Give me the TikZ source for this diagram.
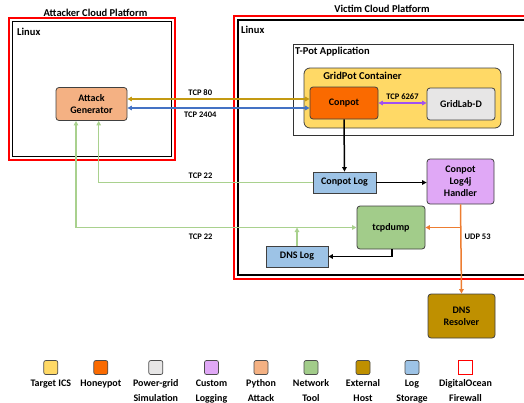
\documentclass[tikz,border=0pt]{standalone}
\usepackage{fontspec}
\setmainfont{Carlito}
\usetikzlibrary{arrows.meta}

\definecolor{attackfill}{HTML}{F4B183}
\definecolor{honeyfill}{HTML}{FA6A00}
\definecolor{icsfill}{HTML}{FFD966}
\definecolor{gridfill}{HTML}{E7E6E6}
\definecolor{logfill}{HTML}{E0A8F6}
\definecolor{netfill}{HTML}{A2CC8A}
\definecolor{hostfill}{HTML}{BF9000}
\definecolor{storefill}{HTML}{9DC3E6}
\definecolor{goldline}{HTML}{C49A12}
\definecolor{blueline}{HTML}{4472C4}
\definecolor{greenline}{HTML}{A9D18E}
\definecolor{orangeline}{HTML}{ED7D31}
\definecolor{purpleline}{HTML}{A050F2}

\tikzset{
  box/.style={draw=black!75, line width=0.8pt, rounded corners=3pt, align=center,
    inner sep=1pt, font=\bfseries\fontsize{10}{12}\selectfont},
  logbox/.style={box, rounded corners=0pt, fill=storefill},
  link/.style={line width=1.5pt, -{Triangle[length=4.5pt,width=4.5pt]}},
  both/.style={{Triangle[length=4.5pt,width=4.5pt]}-{Triangle[length=4.5pt,width=4.5pt]}},
  port/.style={text=black, font=\bfseries\fontsize{8.5}{10}\selectfont, inner sep=0pt},
  title/.style={font=\bfseries\fontsize{10.5}{12}\selectfont, inner sep=0pt},
  key/.style={draw=black!70, line width=0.7pt, rounded corners=2pt,
    minimum size=14pt, inner sep=0pt},
  keytext/.style={anchor=north, align=center, inner sep=0pt,
    font=\bfseries\fontsize{10}{15}\selectfont},
}

\begin{document}
\begin{tikzpicture}[x=1pt, y=-1pt]
    \useasboundingbox (0,0) rectangle (524,402);
    % Attacker platform
    \draw[red, line width=1.5pt] (9,18) rectangle (175,160);
    \draw[black, line width=1.8pt] (12.5,21.5) rectangle (171.5,156.5);
    \node[title] (attacktitle) at (95.5,13) {Attacker Cloud Platform};
    \node[title, anchor=west] (attacklinux) at (17,31.5) {Linux};
    \node[box, fill=attackfill, minimum width=71pt, minimum height=33pt] (attack) at (91.5,104) {Attack\\Generator};
    % Victim platform
    \draw[red, line width=1.5pt] (234,16) rectangle (532,279);
    \draw[black, line width=1.8pt] (238,20) rectangle (528,275);
    \node[title] (victimtitle) at (382,9) {Victim Cloud Platform};
    \node[title, anchor=west] (victimlinux) at (241,30) {Linux};
    % T-Pot and GridPot
    \draw[black!80, line width=0.8pt] (293,44) rectangle (513,135.5);
    \node[title, anchor=west] (tpot) at (295,52) {T-Pot Application};
    \draw[black!75, line width=0.8pt, fill=icsfill, rounded corners=6pt] (304,68) rectangle (501,128);
    \node[title] (gridpot) at (362.5,76) {GridPot Container};
    \node[box, fill=honeyfill, minimum width=68pt, minimum height=32pt] (conpot) at (344,103) {Conpot};
    \node[box, fill=gridfill, minimum width=68pt, minimum height=32pt] (gridlab) at (461,104) {GridLab-D};
    % Logging and network tools
    \node[logbox, minimum width=63pt, minimum height=21pt] (clog) at (344.5,182.5) {Conpot Log};
    \node[box, fill=logfill, minimum width=67pt, minimum height=45pt] (handler) at (460.5,181.5) {Conpot\\Log4j\\Handler};
    \node[box, fill=netfill, minimum width=68pt, minimum height=43pt] (tcpdump) at (391,227.5) {tcpdump};
    \node[logbox, minimum width=62pt, minimum height=21pt] (dnslog) at (297,256.5) {DNS Log};
    \node[box, fill=hostfill, minimum width=67pt, minimum height=44pt] (resolver) at (461.5,316) {DNS\\Resolver};

    % Attack traffic
    \draw[link, both, goldline] ([yshift=4pt]conpot.west) -- ([yshift=4pt]conpot.west -| attack.east)
      node[port, pos=0.6, above=3pt] {TCP 80};
    \draw[link, both, blueline] ([yshift=-5pt]conpot.west) -- ([yshift=-5pt]conpot.west -| attack.east)
      node[port, pos=0.6, below=3pt] {TCP 2404};
    \draw[link, both, purpleline] (conpot.east) -- (conpot.east -| gridlab.west)
      node[port, midway, above=3pt] {TCP 6267};
    % Logs
    \draw[link, black] (conpot.south) -- (clog.north);
    \draw[link, black] (clog.east) -- (clog.east -| handler.west);
    \draw[link, black] ([xshift=1pt]tcpdump.south) |- (dnslog.east);
    % SSH access
    \draw[link, greenline] (clog.west) -| ([xshift=7.2pt]attack.south)
      node[port, pos=0.262, above=3pt] {TCP 22};
    \draw[link, both, greenline] (tcpdump.west) -| ([xshift=-15.5pt]attack.south)
      node[port, pos=0.278, below=6pt] {TCP 22};
    \draw[link, greenline] (dnslog.north) -- (dnslog.north |- tcpdump.west);
    % DNS lookups
    \draw[link, orangeline] (handler.south) -- (resolver.north)
      node[port, pos=0.36, right=3pt] {UDP 53};
    \draw[link, orangeline] (handler.south |- tcpdump.east) -- (tcpdump.east);

    % Legend
    \foreach \x/\c/\t [count=\i] in {50.8/icsfill/{Target ICS}, 100.8/honeyfill/Honeypot,
        155.8/gridfill/{Power-grid\\Simulation}, 211.5/logfill/{Custom\\Logging},
        261/attackfill/{Python\\Attack}, 311/netfill/{Network\\Tool},
        363/hostfill/{External\\Host}, 412/storefill/{Log\\Storage}}{
      \node[key, fill=\c] (key\i) at (\x,367.5) {};
      \node[keytext] (keytext\i) at (\x,379.5) {\t};
    }
    \node[key, draw=red, fill=white, rounded corners=0pt, line width=1pt] (keyfw) at (465.5,367.5) {};
    \node[keytext] (keytextfw) at (465.5,379.5) {DigitalOcean\\Firewall};
\end{tikzpicture}
\end{document}
